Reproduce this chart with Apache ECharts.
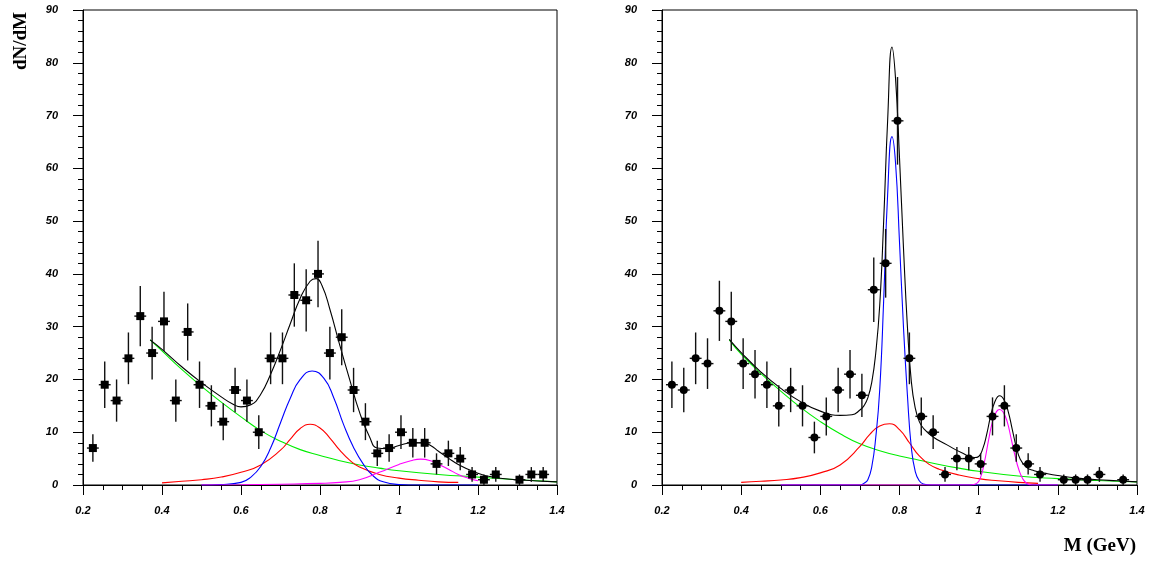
<!DOCTYPE html>
<html>
<head>
<meta charset="utf-8">
<script src="https://cdn.jsdelivr.net/npm/echarts@6/dist/echarts.min.js"></script>
<style>
html,body{margin:0;padding:0;background:#fff;}
#chart{width:1151px;height:562px;}
</style>
</head>
<body>
<div id="chart"></div>
<script>
// ---- data ----
const binCenters = [0.225,0.255,0.285,0.315,0.345,0.375,0.405,0.435,0.465,0.495,0.525,0.555,0.585,0.615,0.645,0.675,0.705,0.735,0.765,0.795,0.825,0.855,0.885,0.915,0.945,0.975,1.005,1.035,1.065,1.095,1.125,1.155,1.185,1.215,1.245,1.275,1.305,1.335,1.365];
const binHalfWidth = 0.015;

const leftCounts = [7,19,16,24,32,25,31,16,29,19,15,12,18,16,10,24,24,36,35,40,25,28,18,12,6,7,10,8,8,4,6,5,2,1,2,null,1,2,2];
const leftErrors = [2.6,4.4,4,4.9,5.7,5,5.6,4,5.4,4.4,3.9,3.5,4.2,4,3.2,4.9,4.9,6,5.9,6.3,5,5.3,4.2,3.5,2.4,2.6,3.2,2.8,2.8,2,2.4,2.2,1.4,1,1.4,null,1,1.4,1.4];

const rightCounts = [19,18,24,23,33,31,23,21,19,15,18,15,9,13,18,21,17,37,42,69,24,13,10,2,5,5,4,13,15,7,4,2,null,1,1,1,2,null,1];
const rightErrors = [4.4,4.2,4.9,4.8,5.7,5.6,4.8,4.6,4.4,3.9,4.2,3.9,3,3.6,4.2,4.6,4.1,6.1,6.5,8.3,4.9,3.6,3.2,1.4,2.2,2.2,2,3.6,3.9,2.6,2,1.4,null,1,1,1,1.4,null,1];

// fitted curves, left panel [M, dN/dM]
const leftTotal = [[0.37,27.5],[0.40,25.7],[0.45,22.4],[0.50,19.4],[0.55,16.7],[0.58,15.3],[0.60,14.8],[0.625,15.2],[0.65,17.2],[0.675,21.0],[0.70,25.6],[0.725,30.6],[0.75,35.4],[0.775,38.6],[0.79,39.1],[0.805,37.8],[0.825,33.3],[0.85,26.5],[0.875,20.0],[0.90,13.8],[0.925,9.2],[0.945,7.0],[0.97,6.9],[1.0,7.5],[1.035,8.0],[1.06,8.0],[1.08,7.5],[1.10,6.4],[1.125,5.1],[1.15,3.9],[1.19,2.5],[1.23,1.6],[1.3,1.0],[1.4,0.6]];
const leftBackground = [[0.37,27.5],[0.40,25.4],[0.45,21.9],[0.50,18.7],[0.55,15.7],[0.60,12.9],[0.65,10.3],[0.70,8.3],[0.75,6.7],[0.80,5.6],[0.85,4.6],[0.90,3.8],[0.95,3.2],[1.0,2.7],[1.1,2.0],[1.2,1.5],[1.3,1.0],[1.4,0.6]];
const leftBlue = [[0.5,0],[0.55,0.1],[0.6,0.5],[0.625,1.5],[0.65,3.5],[0.675,7.0],[0.70,11.8],[0.725,16.5],[0.75,20.0],[0.78,21.6],[0.81,20.2],[0.835,16.5],[0.86,11.4],[0.885,7.1],[0.91,3.9],[0.935,1.7],[0.96,0.6],[1.0,0.1],[1.05,0],[1.2,0]];
const leftRed = [[0.4,0.4],[0.45,0.7],[0.5,1.0],[0.55,1.5],[0.6,2.4],[0.65,3.8],[0.7,6.6],[0.725,8.7],[0.75,10.7],[0.775,11.5],[0.8,10.8],[0.825,8.9],[0.85,6.6],[0.875,4.7],[0.9,3.4],[0.95,2.0],[1.0,1.3],[1.05,0.9],[1.1,0.6],[1.15,0.5]];
const leftMagenta = [[0.5,0],[0.6,0.05],[0.7,0.15],[0.8,0.3],[0.85,0.5],[0.9,1.0],[0.95,2.4],[1.0,3.9],[1.03,4.6],[1.055,4.9],[1.08,4.6],[1.1,3.9],[1.125,3.0],[1.15,2.0],[1.175,1.3],[1.2,0.8]];

// fitted curves, right panel
const rightTotal = [[0.37,27.6],[0.40,25.1],[0.45,21.4],[0.50,18.3],[0.55,15.8],[0.60,14.0],[0.65,13.2],[0.68,13.3],[0.70,14.2],[0.71,15.0],[0.72,16.5],[0.73,19.5],[0.74,25],[0.75,34],[0.76,50],[0.77,69],[0.781,83],[0.79,77],[0.80,62],[0.81,45],[0.82,30],[0.83,19.5],[0.84,14.5],[0.85,12.0],[0.86,10.8],[0.885,9.1],[0.92,7.6],[0.96,6.0],[0.99,5.2],[1.0,5.4],[1.01,6.8],[1.02,9.5],[1.03,13],[1.04,15.6],[1.053,16.9],[1.065,16.0],[1.075,13.8],[1.085,10.5],[1.095,7.2],[1.105,4.9],[1.12,3.4],[1.14,2.7],[1.17,2.2],[1.2,1.8],[1.25,1.3],[1.3,1.0],[1.35,0.8],[1.4,0.6]];
const rightBackground = [[0.37,27.5],[0.40,24.8],[0.45,21.1],[0.50,17.8],[0.55,14.7],[0.60,12.0],[0.65,9.7],[0.70,7.8],[0.75,6.5],[0.80,5.5],[0.85,4.7],[0.90,3.9],[0.95,3.2],[1.0,2.6],[1.1,1.7],[1.2,1.2],[1.3,0.85],[1.4,0.6]];
const rightBlue = [[0.5,0],[0.7,0],[0.71,0.3],[0.72,1.0],[0.73,3.5],[0.74,9],[0.75,18],[0.76,35],[0.77,55],[0.781,66],[0.79,61],[0.80,46],[0.81,30],[0.82,17],[0.83,7],[0.84,2.5],[0.85,0.8],[0.86,0.2],[0.88,0],[1.2,0]];
const rightRed = [[0.4,0.5],[0.45,0.7],[0.5,0.95],[0.55,1.4],[0.6,2.3],[0.65,3.8],[0.7,7.3],[0.725,9.6],[0.75,11.2],[0.775,11.6],[0.8,10.5],[0.825,8.0],[0.85,5.5],[0.875,3.9],[0.9,3.0],[0.95,1.9],[1.0,1.2],[1.05,0.8],[1.1,0.5],[1.15,0.3]];
const rightMagenta = [[0.5,0],[0.98,0],[0.995,0.3],[1.005,1.5],[1.015,4.5],[1.025,8.5],[1.035,12],[1.045,13.9],[1.053,14.3],[1.062,13.8],[1.072,12],[1.082,8.8],[1.092,5.5],[1.102,2.8],[1.112,1.1],[1.122,0.3],[1.135,0],[1.2,0]];

const xTicks = {min:0.2, max:1.4, interval:0.2};
const yTicks = {min:0, max:90, interval:10};
const yTitle = 'dN/dM';
const xTitle = 'M (GeV)';

// ---- chart ----
const chart = echarts.init(document.getElementById('chart'), null, {renderer:'canvas'});

function points(counts, errors){
  const out = [];
  for (let i=0;i<binCenters.length;i++){
    if (counts[i]!==null) out.push([binCenters[i], counts[i], errors[i]]);
  }
  return out;
}

const labelFont = {fontFamily:'Liberation Sans, Arial, sans-serif', fontWeight:'bold', fontStyle:'italic', fontSize:11, color:'#000'};

function makeX(idx){
  return {
    type:'value', gridIndex:idx, min:xTicks.min, max:xTicks.max, interval:xTicks.interval,
    axisLine:{show:true, onZero:false, lineStyle:{color:'#000', width:1}},
    axisTick:{show:true, inside:false, length:10, lineStyle:{color:'#000'}},
    minorTick:{show:true, splitNumber:4, length:5, lineStyle:{color:'#000'}},
    splitLine:{show:false},
    axisLabel:Object.assign({margin:20, showMinLabel:true, showMaxLabel:true}, labelFont)
  };
}
function makeY(idx){
  return {
    type:'value', gridIndex:idx, min:yTicks.min, max:yTicks.max, interval:yTicks.interval,
    axisLine:{show:true, onZero:false, lineStyle:{color:'#000', width:1}},
    axisTick:{show:true, inside:false, length:10, lineStyle:{color:'#000'}},
    minorTick:{show:true, splitNumber:5, length:5, lineStyle:{color:'#000'}},
    splitLine:{show:false},
    axisLabel:Object.assign({margin:25, showMinLabel:true, showMaxLabel:true}, labelFont)
  };
}

function curve(data, color, idx){
  return {
    type:'line', xAxisIndex:idx, yAxisIndex:idx, data:data, showSymbol:false, symbol:'none',
    smooth:0.5, silent:true, z:2,
    lineStyle:{color:color, width:1.1}
  };
}

function errBars(data, idx){
  return {
    type:'custom', xAxisIndex:idx, yAxisIndex:idx, data:data, z:4, silent:true,
    renderItem:function(params, api){
      const x = api.value(0), y = api.value(1), e = api.value(2);
      const top = api.coord([x, y+e]);
      const bot = api.coord([x, Math.max(0, y-e)]);
      const l = api.coord([x-binHalfWidth, y]);
      const r = api.coord([x+binHalfWidth, y]);
      return {type:'group', children:[
        {type:'line', shape:{x1:top[0], y1:top[1], x2:bot[0], y2:bot[1]}, style:{stroke:'#111', lineWidth:1.4}},
        {type:'line', shape:{x1:l[0], y1:l[1], x2:r[0], y2:r[1]}, style:{stroke:'#111', lineWidth:1.4}}
      ]};
    }
  };
}

function markers(data, idx, symbol, size){
  return {
    type:'scatter', xAxisIndex:idx, yAxisIndex:idx, data:data, symbol:symbol, symbolSize:size,
    itemStyle:{color:'#000', opacity:1}, z:5, silent:true
  };
}

const leftPts = points(leftCounts, leftErrors);
const rightPts = points(rightCounts, rightErrors);

chart.setOption({
  animation:false,
  backgroundColor:'#fff',
  grid:[
    {left:83, top:10, width:474, height:475, show:true, borderColor:'#000', borderWidth:1, backgroundColor:'transparent'},
    {left:662, top:10, width:475, height:475, show:true, borderColor:'#000', borderWidth:1, backgroundColor:'transparent'}
  ],
  xAxis:[makeX(0), makeX(1)],
  yAxis:[makeY(0), makeY(1)],
  series:[
    curve(leftBackground, '#00ee00', 0),
    curve(leftRed, '#ff0000', 0),
    curve(leftBlue, '#0000ff', 0),
    curve(leftMagenta, '#ff00ff', 0),
    curve(leftTotal, '#000000', 0),
    errBars(leftPts, 0),
    markers(leftPts, 0, 'rect', 8),
    curve(rightBackground, '#00ee00', 1),
    curve(rightRed, '#ff0000', 1),
    curve(rightBlue, '#0000ff', 1),
    curve(rightMagenta, '#ff00ff', 1),
    curve(rightTotal, '#000000', 1),
    errBars(rightPts, 1),
    markers(rightPts, 1, 'circle', 8)
  ],
  graphic:[
    {type:'text', left:12, top:12, rotation:Math.PI/2, style:{text:yTitle, font:'bold 19px "Liberation Serif", "Times New Roman", serif', fill:'#000'}},
    {type:'text', right:15, top:537, style:{text:xTitle, font:'bold 19px "Liberation Serif", "Times New Roman", serif', fill:'#000'}}
  ]
});
</script>
</body>
</html>
